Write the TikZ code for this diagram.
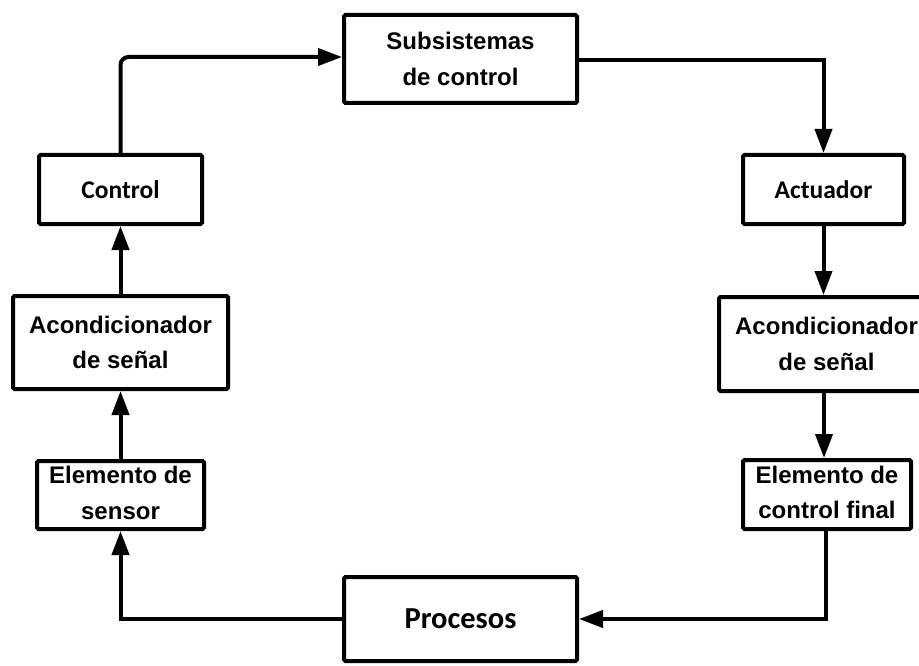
\documentclass[tikz,border=0pt]{standalone}
\usepackage{fontspec}
\setmainfont{Liberation Sans}
\newfontfamily\calib{Carlito}
\usetikzlibrary{arrows.meta}
\begin{document}
\begin{tikzpicture}[x=1pt,y=-1pt,
  box/.style={draw=black,line width=4pt,rounded corners=1.5pt,fill=white,
    inner sep=0pt,align=center,font=\bfseries\fontsize{24}{35.5}\selectfont},
  cbox/.style={box,font=\calib\bfseries\fontsize{25.5}{30}\selectfont},
  link/.style={line width=4pt,-{Triangle[length=24pt,width=17pt]}}]
\clip (0,0) rectangle (919,666);
\fill[white] (0,0) rectangle (919,666);

% blocks of the loop
\node[box,minimum width=233pt,minimum height=88pt] (sub) at (460.5,59) {Subsistemas\\de control};
\node[cbox,minimum width=163pt,minimum height=69pt] (ctrl) at (120.5,189.5) {Control};
\node[cbox,minimum width=161pt,minimum height=69pt] (act) at (823.5,189.5) {Actuador};
\node[box,minimum width=215pt,minimum height=93pt] (acL) at (120.5,342.5) {Acondicionador\\de se\~nal};
\node[box,minimum width=215pt,minimum height=94pt] (acR) at (826.5,344) {Acondicionador\\de se\~nal};
\node[box,minimum width=167pt,minimum height=68pt,text depth=4.5pt] (sen) at (120.5,495) {Elemento de\\sensor};
\node[box,minimum width=168pt,minimum height=69pt,text depth=4.5pt] (fin) at (827,494.5) {Elemento de\\control final};
\node[cbox,minimum width=233pt,minimum height=84pt,font=\calib\bfseries\fontsize{30.5}{36}\selectfont] (pro) at (460.5,619) {Procesos};

% feedback path
\draw[link,rounded corners=8pt] (ctrl.north) |- ([yshift=2pt]sub.west);
\draw[link] ([yshift=-1pt]sub.east) -| (act.north);
\draw[link] (act.south) -- (act.south |- acR.north);
\coordinate (rx) at (824,0);
\draw[link] (acR.south -| rx) -- (fin.north -| rx);
\draw[link] ([xshift=-1pt]fin.south) |- (pro.east);
\draw[link] (pro.west) -| (sen.south);
\draw[link] (sen.north) -- (acL.south);
\draw[link] (acL.north) -- (ctrl.south);
\end{tikzpicture}
\end{document}
